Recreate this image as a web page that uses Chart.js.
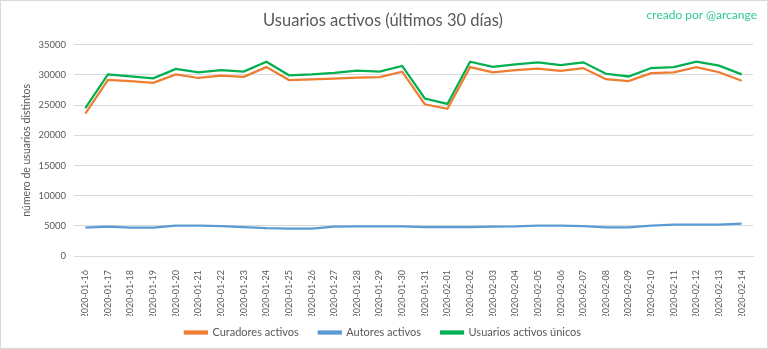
<!DOCTYPE html>
<html>
<head>
<meta charset="utf-8">
<script src="https://cdn.jsdelivr.net/npm/chart.js@4/dist/chart.umd.min.js"></script>
<style>
    html, body { margin: 0; padding: 0; background: #fff; }
    #wrap {
        position: relative;
        width: 768px;
        height: 349px;
        box-sizing: border-box;
        border: 1px solid #d9d9d9;
    }
    #credit {
        position: absolute;
        right: 10px;
        top: 6px;
        font-family: Lato, sans-serif;
        font-size: 12px;
        color: #2fc79a;
    }
</style>
</head>
<body>
<div id="wrap">
    <canvas id="ActiveUsers"></canvas>
    <div id="credit">creado por @arcange</div>
</div>
<script>
const dates = [
    "2020-01-16", "2020-01-17", "2020-01-18", "2020-01-19", "2020-01-20",
    "2020-01-21", "2020-01-22", "2020-01-23", "2020-01-24", "2020-01-25",
    "2020-01-26", "2020-01-27", "2020-01-28", "2020-01-29", "2020-01-30",
    "2020-01-31", "2020-02-01", "2020-02-02", "2020-02-03", "2020-02-04",
    "2020-02-05", "2020-02-06", "2020-02-07", "2020-02-08", "2020-02-09",
    "2020-02-10", "2020-02-11", "2020-02-12", "2020-02-13", "2020-02-14"
];

const curadores = [
    23600, 29200, 29000, 28700, 30100, 29500, 29900, 29700, 31300, 29150,
    29250, 29400, 29550, 29650, 30550, 25150, 24400, 31300, 30450, 30800,
    31050, 30700, 31150, 29300, 29000, 30300, 30450, 31300, 30450, 29050
];

const autores = [
    4700, 4850, 4700, 4700, 5050, 5050, 4950, 4800, 4600, 4550,
    4550, 4850, 4900, 4900, 4900, 4800, 4800, 4800, 4850, 4900,
    5050, 5050, 4950, 4750, 4750, 5050, 5200, 5200, 5200, 5350
];

const usuariosUnicos = [
    24500, 30100, 29750, 29450, 31000, 30450, 30800, 30550, 32200, 29950,
    30100, 30350, 30700, 30550, 31500, 26100, 25200, 32200, 31350, 31750,
    32100, 31650, 32100, 30200, 29750, 31150, 31300, 32200, 31550, 30100
];

const yTicks = [0, 5000, 10000, 15000, 20000, 25000, 30000, 35000];

function lineSet(label, values, color) {
    return {
        label: label,
        data: values,
        borderColor: color,
        backgroundColor: color,
        borderWidth: 2.25,
        pointRadius: 0,
        tension: 0,
        fill: false,
    };
}

// legend keeps wide gaps between items, but takes less height above them
const LEGEND_TRIM = 9;
const legendTrim = {
    id: "legendTrim",
    beforeLayout(chart) {
        const legend = chart.legend;
        if (legend && !legend.trimmed) {
            const fit = legend.fit;
            legend.fit = function () {
                fit.call(this);
                this.height -= LEGEND_TRIM;
            };
            legend.trimmed = true;
        }
    },
    afterLayout(chart) {
        chart.legend.top -= LEGEND_TRIM;
        chart.legend.bottom -= LEGEND_TRIM;
    },
};

function ActiveUsersChart() {
    const ctx = document.getElementById("ActiveUsers");
    Chart.defaults.font.family = "Lato, sans-serif";
    Chart.defaults.color = "#595959";

    new Chart(ctx, {
        type: "line",
        data: {
            labels: dates,
            datasets: [
                lineSet("Curadores activos", curadores, "#ed7d31"),
                lineSet("Autores activos", autores, "#5b9bd5"),
                lineSet("Usuarios activos únicos", usuariosUnicos, "#00b050"),
            ],
        },
        plugins: [legendTrim],
        options: {
            responsive: true,
            maintainAspectRatio: false,
            animation: false,
            layout: {
                padding: { left: 12, right: 14, top: 4, bottom: 0 },
            },
            scales: {
                x: {
                    offset: true,
                    afterFit: (axis) => {
                        axis.height = 60;
                    },
                    grid: { display: false },
                    border: { color: "#d9d9d9" },
                    ticks: {
                        minRotation: 90,
                        maxRotation: 90,
                        autoSkip: false,
                        font: { size: 9 },
                        color: "#595959",
                        padding: 6,
                    },
                },
                y: {
                    min: 0,
                    max: 35000,
                    afterBuildTicks: (axis) => {
                        axis.ticks = yTicks.map((v) => ({ value: v }));
                    },
                    afterFit: (axis) => {
                        axis.width = 61;
                    },
                    grid: { color: "#d9d9d9", drawTicks: false },
                    border: { display: false },
                    ticks: {
                        font: { size: 9.5 },
                        color: "#595959",
                        padding: 8,
                        callback: (v) => String(v),
                    },
                    title: {
                        display: true,
                        text: "número de usuarios distintos",
                        font: { size: 10.5 },
                        color: "#595959",
                        padding: { top: 7, bottom: 0 },
                    },
                },
            },
            plugins: {
                title: {
                    display: true,
                    text: "Usuarios activos (últimos 30 días)",
                    font: { size: 16.5, weight: "normal" },
                    color: "#595959",
                    padding: { top: 6, bottom: 14 },
                },
                legend: {
                    position: "bottom",
                    labels: {
                        boxWidth: 22,
                        boxHeight: 2,
                        font: { size: 11 },
                        color: "#595959",
                        padding: 20,
                    },
                },
                tooltip: { enabled: true },
            },
        },
    });
}

ActiveUsersChart()
</script>
</body>
</html>
